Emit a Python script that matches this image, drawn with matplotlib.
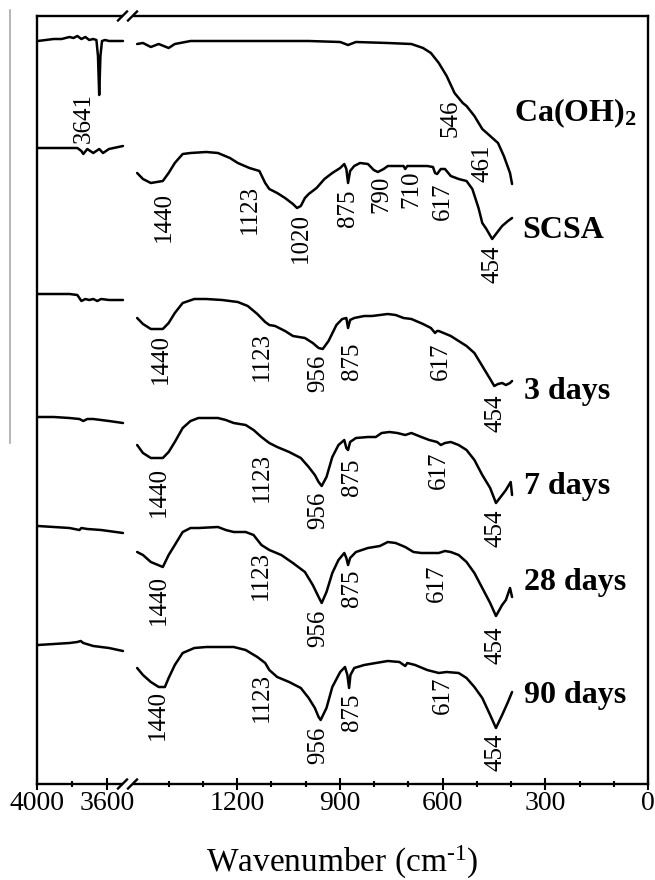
import numpy as np
import matplotlib
matplotlib.use("Agg")
import matplotlib.pyplot as plt
from matplotlib.lines import Line2D
from matplotlib.patches import Rectangle

plt.rcParams['font.family'] = ['Liberation Serif', 'DejaVu Serif']
plt.rcParams['mathtext.fontset'] = 'custom'
plt.rcParams['mathtext.rm'] = 'Liberation Serif'
plt.rcParams['mathtext.bf'] = 'Liberation Serif:bold'
plt.rcParams['mathtext.it'] = 'Liberation Serif:italic'

# ---------------- data (wavenumber cm-1, transmittance a.u.) ----------------
caoh2_hi_wn = [3994, 3949, 3903, 3858, 3813, 3790, 3768, 3745, 3722, 3700, 3677, 3659,
               3650, 3643, 3636, 3627, 3609, 3587, 3541, 3507]
caoh2_hi_t = [743, 744, 745, 745, 747, 746, 748, 745, 747, 744, 745, 744,
              728, 689, 728, 743, 744, 743, 743, 743]
caoh2_lo_wn = [1492, 1475, 1452, 1429, 1400, 1382, 1336, 1221, 1106, 991, 899, 876, 853,
               760, 691, 657, 634, 611, 588, 565, 541, 530, 507, 484, 461, 438, 421, 403, 397]
caoh2_lo_t = [740, 741, 737, 740, 736, 740, 743, 743, 743, 743, 742, 739, 742,
              741, 740, 736, 731, 721, 708, 691, 681, 678, 668, 655, 648, 641, 628, 611, 600]

scsa_hi_wn = [3994, 3813, 3768, 3745, 3734, 3711, 3677, 3643, 3621, 3587, 3507]
scsa_hi_t = [636, 636, 636, 633, 630, 635, 631, 635, 631, 635, 638]
scsa_lo_wn = [1492, 1475, 1452, 1417, 1400, 1382, 1359, 1336, 1290, 1256, 1221, 1198, 1164,
              1135, 1118, 1106, 1083, 1060, 1037, 1025, 1014, 1002, 991, 968, 945, 922, 899,
              887, 881, 876, 870, 858, 841, 818, 801, 789, 772, 760, 714, 709, 703, 645, 628,
              622, 616, 605, 593, 576, 553, 530, 513, 495, 484, 472, 455, 444, 426, 409, 397]
scsa_lo_t = [611, 605, 601, 603, 611, 621, 630, 631, 632, 631, 626, 621, 616,
             613, 601, 595, 591, 586, 580, 576, 578, 586, 590, 596, 605, 611, 616,
             620, 615, 601, 613, 618, 621, 620, 614, 612, 615, 618, 618, 615, 618, 618, 617,
             611, 610, 615, 615, 608, 605, 603, 595, 576, 561, 555, 545, 550, 558, 563, 566]

d3_hi_wn = [3994, 3813, 3768, 3745, 3722, 3700, 3677, 3654, 3632, 3587, 3507]
d3_hi_t = [490, 490, 489, 483, 485, 484, 485, 483, 485, 484, 484]
d3_lo_wn = [1492, 1475, 1452, 1417, 1400, 1382, 1359, 1325, 1290, 1244, 1198, 1169, 1141,
            1118, 1106, 1089, 1060, 1037, 1002, 979, 962, 950, 933, 910, 893, 881, 876,
            870, 858, 829, 806, 783, 760, 737, 714, 691, 657, 634, 622, 616, 611, 576,
            553, 530, 507, 484, 461, 449, 438, 426, 415, 403, 397]
d3_lo_t = [466, 460, 455, 455, 461, 471, 481, 485, 485, 484, 482, 478, 470,
           462, 459, 458, 453, 448, 446, 441, 436, 435, 443, 459, 465, 466, 456,
           464, 466, 468, 468, 469, 470, 469, 466, 465, 460, 456, 451, 453, 453, 448,
           443, 438, 431, 418, 405, 398, 400, 401, 399, 401, 403]

d7_hi_wn = [3994, 3903, 3813, 3756, 3734, 3711, 3677, 3632, 3587, 3507]
d7_hi_t = [367, 367, 366, 365, 363, 365, 365, 364, 363, 361]
d7_lo_wn = [1492, 1475, 1452, 1417, 1400, 1382, 1359, 1336, 1313, 1256, 1233, 1210, 1175,
            1152, 1129, 1106, 1083, 1048, 1014, 991, 973, 962, 953, 939, 922, 904, 887,
            881, 876, 870, 853, 818, 795, 778, 755, 732, 709, 691, 662, 639, 616, 605,
            593, 576, 553, 530, 507, 484, 461, 444, 426, 415, 401, 397]
d7_lo_t = [339, 331, 326, 326, 332, 342, 356, 363, 366, 366, 364, 361, 359,
           354, 347, 341, 337, 332, 326, 317, 309, 302, 298, 307, 327, 339, 344,
           336, 334, 342, 346, 347, 347, 351, 352, 351, 349, 351, 347, 344, 342, 339,
           341, 342, 339, 334, 324, 309, 296, 281, 289, 294, 302, 289]

d28_hi_wn = [3994, 3903, 3813, 3756, 3745, 3711, 3632, 3507]
d28_hi_t = [258, 257, 256, 254, 256, 255, 254, 251]
d28_lo_wn = [1492, 1475, 1452, 1417, 1400, 1382, 1359, 1336, 1313, 1256, 1233, 1210, 1175,
             1152, 1129, 1106, 1071, 1037, 1002, 979, 962, 953, 939, 922, 904, 887, 881,
             876, 870, 853, 818, 783, 760, 737, 709, 685, 662, 634, 611, 593, 576, 553,
             530, 507, 484, 461, 444, 426, 415, 403, 397]
d28_lo_t = [232, 229, 222, 217, 229, 239, 252, 256, 256, 257, 254, 252, 252,
            249, 239, 234, 229, 221, 212, 199, 187, 181, 192, 211, 224, 231, 226,
            219, 226, 232, 236, 238, 242, 241, 237, 232, 231, 231, 231, 233, 232, 229,
            222, 211, 196, 181, 168, 179, 184, 196, 187]

d90_hi_wn = [3994, 3903, 3813, 3768, 3749, 3734, 3677, 3587, 3507]
d90_hi_t = [139, 140, 141, 142, 143, 141, 138, 136, 133]
d90_lo_wn = [1492, 1475, 1452, 1429, 1411, 1400, 1382, 1359, 1325, 1290, 1244, 1210, 1175,
             1141, 1118, 1106, 1083, 1048, 1014, 991, 973, 962, 956, 939, 922, 899, 885,
             878, 873, 869, 858, 829, 795, 760, 726, 709, 703, 680, 645, 611, 588, 553,
             530, 507, 484, 461, 444, 426, 409, 397]
d90_lo_t = [116, 109, 102, 97, 97, 106, 119, 131, 136, 137, 137, 137, 134,
            127, 121, 114, 107, 102, 96, 86, 76, 67, 64, 76, 97, 112, 117,
            109, 96, 109, 116, 119, 121, 123, 122, 118, 121, 119, 114, 111, 112, 111,
            106, 97, 86, 69, 56, 69, 82, 92]

series_names = ["Ca(OH)$_\\mathbf{2}$", "SCSA", "3 days", "7 days", "28 days", "90 days"]

# peak labels: text, wavenumber
caoh2_peaks = ["3641", "546", "461"]
caoh2_peak_wn = [3729, 576, 482]
scsa_peaks = ["1440", "1123", "1020", "875", "790", "710", "617", "454"]
scsa_peak_wn = [1415, 1164, 1014, 876, 780, 691, 599, 455]
age_peaks = ["1440", "1123", "956", "875", "617", "454"]
d3_peak_wn = [1423, 1129, 962, 864, 605, 444]
d7_peak_wn = [1429, 1129, 962, 864, 611, 444]
d28_peak_wn = [1429, 1131, 962, 864, 616, 444]
d90_peak_wn = [1431, 1129, 962, 864, 599, 444]

major_ticks = [4000, 3600, 1200, 900, 600, 300, 0]
minor_ticks = [3800, 1400, 1300, 1100, 1000, 800, 700, 500, 400, 200, 100]

# ---------------- layout (positions of annotations) ----------------
caoh2_peak_y = [666, 666, 621]
scsa_peak_y = [567, 575, 546, 576, 590, 595, 583, 520]
d3_peak_y = [425, 428, 411, 423, 423, 371]
d7_peak_y = [292, 307, 274, 307, 314, 256]
d28_peak_y = [184, 209, 156, 196, 201, 139]
d90_peak_y = [69, 87, 39, 72, 89, 32]
name_x = [391, 368, 362, 362, 362, 362]
name_y = [663, 546, 385, 290, 194, 81]

# broken axis: 4000-3500 and 1500-0 mapped onto one axis
def fwd(w):
    return np.interp(w, [0, 1500, 3500, 4000], [0, 513.6, 523.8, 611.2])

def inv(p):
    return np.interp(p, [0, 513.6, 523.8, 611.2], [0, 1500, 3500, 4000])

W, H = 655, 880
fig = plt.figure(figsize=(W / 100, H / 100), dpi=100)
ax = fig.add_axes([36.8 / W, 1 - 784 / H, 611.2 / W, 768 / H])
ax.set_xscale('function', functions=(fwd, inv))
ax.set_xlim(4000, 0)
ax.set_ylim(0, 768)

lw = 1.8
for wn, t in [(caoh2_hi_wn, caoh2_hi_t), (caoh2_lo_wn, caoh2_lo_t),
              (scsa_hi_wn, scsa_hi_t), (scsa_lo_wn, scsa_lo_t),
              (d3_hi_wn, d3_hi_t), (d3_lo_wn, d3_lo_t),
              (d7_hi_wn, d7_hi_t), (d7_lo_wn, d7_lo_t),
              (d28_hi_wn, d28_hi_t), (d28_lo_wn, d28_lo_t),
              (d90_hi_wn, d90_hi_t), (d90_lo_wn, d90_lo_t)]:
    ax.plot(wn, t, color='black', lw=lw, solid_joinstyle='round', solid_capstyle='round')

peak_fs = 18
for labels, xs, ys in [(caoh2_peaks, caoh2_peak_wn, caoh2_peak_y),
                       (scsa_peaks, scsa_peak_wn, scsa_peak_y),
                       (age_peaks, d3_peak_wn, d3_peak_y),
                       (age_peaks, d7_peak_wn, d7_peak_y),
                       (age_peaks, d28_peak_wn, d28_peak_y),
                       (age_peaks, d90_peak_wn, d90_peak_y)]:
    for s, x, y in zip(labels, xs, ys):
        ax.text(x, y, s, rotation=90, ha='center', va='center', fontsize=peak_fs)

for s, x, y in zip(series_names, name_x, name_y):
    ax.text(x, y, s, ha='left', va='baseline', fontsize=23, fontweight='bold')

ax.set_xticks(major_ticks)
ax.set_xticklabels([str(v) for v in major_ticks])
ax.set_xticks(minor_ticks, minor=True)
ax.set_yticks([])
ax.tick_params(axis='x', which='major', direction='inout', length=8, width=1.5,
               labelsize=20, pad=1)
ax.tick_params(axis='x', which='minor', direction='inout', length=5, width=1.5)
for sp in ax.spines.values():
    sp.set_linewidth(1.7)

ax.set_xlabel('Wavenumber (cm$^{\\text{-1}}$)', fontsize=24, labelpad=20)

# break marks on top and bottom spines
gx0 = (122.5 - 36.8) / 611.2
gx1 = (132.5 - 36.8) / 611.2
dx = 4.5 / 611.2
dy = 4.5 / 768
for yb in (0.0, 1.0):
    ax.add_patch(Rectangle((gx0, yb - 3 / 768), gx1 - gx0, 6 / 768,
                           transform=ax.transAxes, facecolor='white',
                           edgecolor='none', clip_on=False, zorder=5))
    for gx in (gx0, gx1):
        ax.add_line(Line2D([gx - dx, gx + dx], [yb - dy, yb + dy],
                           transform=ax.transAxes, color='black', lw=1.7,
                           clip_on=False, zorder=6))

# faint vertical line on left edge
fig.add_artist(Line2D([10 / W, 10 / W], [1 - 10 / H, 1 - 443 / H],
                      color='#aaaaaa', lw=1.2))

fig.savefig('out.png', dpi=100)
